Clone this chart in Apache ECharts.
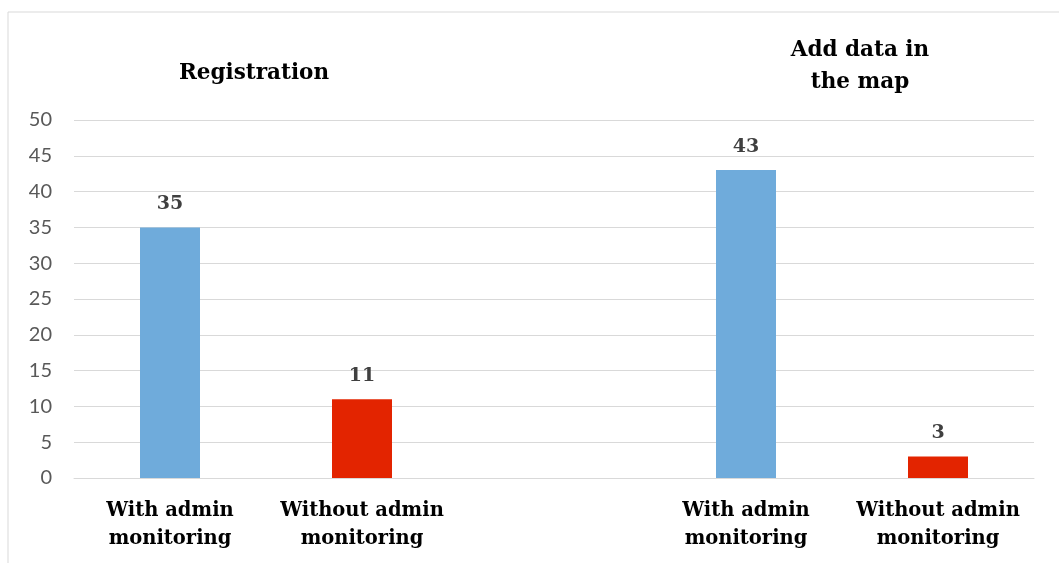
<!DOCTYPE html>
<html>
<head>
<meta charset="utf-8">
<script src="https://cdn.jsdelivr.net/npm/echarts@6/dist/echarts.min.js"></script>
<style>
  html, body { margin: 0; padding: 0; background: #fff; }
  #chart { width: 1059px; height: 563px; }
</style>
</head>
<body>
<div id="chart"></div>
<script>
// categories (the empty one is the gap between the two groups)
const categories = ['With admin\nmonitoring', 'Without admin\nmonitoring', '', 'With admin\nmonitoring', 'Without admin\nmonitoring']
const values = [35, 11, null, 43, 3]
const groupTitles = ['Registration', 'Add data in\nthe map']
const yTicks = { min: 0, max: 50, interval: 5 }

const blue = '#6fabdb'
const red = '#e32400'
const serif = '"DejaVu Serif", serif'

const chart = echarts.init(document.getElementById('chart'))

const barData = values.map((v, i) => ({
  value: v,
  itemStyle: { color: categories[i].indexOf('Without') === 0 ? red : blue }
}))

const option = {
  animation: false,
  grid: { left: 74, right: 25, top: 120, bottom: 85 },
  graphic: [
    {
      type: 'rect',
      shape: { x: 8, y: 12, width: 1060, height: 560 },
      style: { fill: 'none', stroke: '#d9d9d9', lineWidth: 1 },
      silent: true
    },
    {
      type: 'text', x: 254, y: 73,
      style: { text: groupTitles[0], font: 'bold 21.5px ' + serif, fill: '#000', textAlign: 'center', textVerticalAlign: 'middle' }
    },
    {
      type: 'text', x: 860, y: 66,
      style: { text: groupTitles[1], font: 'bold 21.5px ' + serif, fill: '#000', textAlign: 'center', textVerticalAlign: 'middle', lineHeight: 32 }
    }
  ],
  xAxis: {
    type: 'category',
    data: categories,
    axisLine: { lineStyle: { color: '#d9d9d9' } },
    axisTick: { show: false },
    axisLabel: {
      interval: 0,
      margin: 19,
      color: '#000',
      fontFamily: serif,
      fontWeight: 'bold',
      fontSize: 19.5,
      lineHeight: 28
    }
  },
  yAxis: {
    type: 'value',
    min: yTicks.min,
    max: yTicks.max,
    interval: yTicks.interval,
    axisLine: { show: false },
    axisTick: { show: false },
    splitLine: { lineStyle: { color: '#d9d9d9' } },
    axisLabel: { color: '#595959', fontFamily: 'Lato', fontSize: 20, margin: 22 }
  },
  series: [{
    type: 'bar',
    data: barData,
    barWidth: 60,
    label: {
      show: true,
      position: 'top',
      distance: 14,
      color: '#404040',
      fontFamily: serif,
      fontWeight: 'bold',
      fontSize: 19
    }
  }]
}

chart.setOption(option)
</script>
</body>
</html>
